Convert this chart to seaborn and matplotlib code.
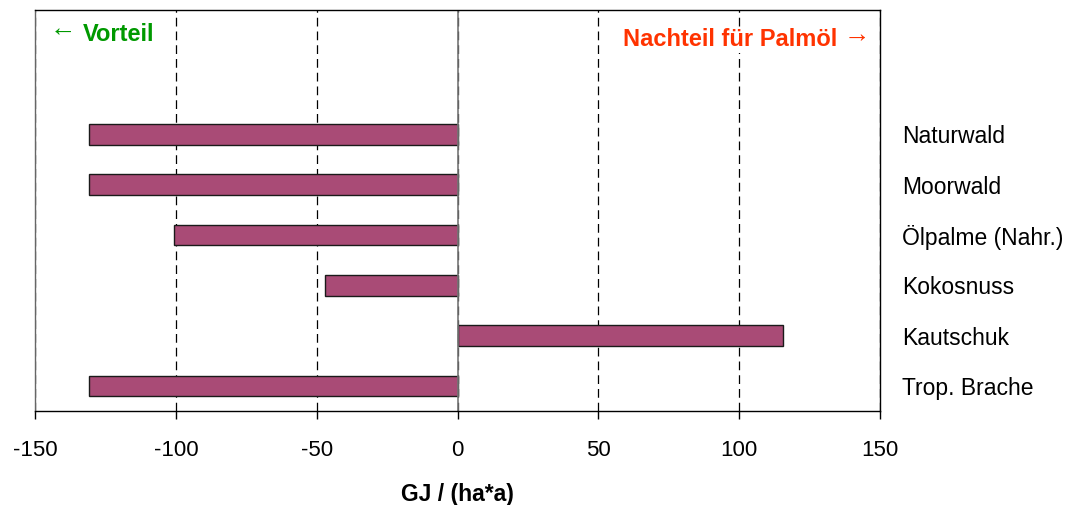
import matplotlib
matplotlib.use("Agg")
import matplotlib.pyplot as plt
import seaborn as sns
import pandas as pd

categories = ["Naturwald", "Moorwald", "Ölpalme (Nahr.)", "Kokosnuss", "Kautschuk", "Trop. Brache"]
values = [-131, -131, -100.5, -47, 115.5, -131]
xticks = [-150, -100, -50, 0, 50, 100, 150]

sns.set_theme(style="white")
plt.rcParams['font.family'] = ['Liberation Sans', 'DejaVu Sans']
plt.rcParams['text.color'] = 'black'
plt.rcParams['xtick.color'] = 'black'
plt.rcParams['ytick.color'] = 'black'
plt.rcParams['axes.labelcolor'] = 'black'

df = pd.DataFrame({"Kategorie": categories, "Wert": values})

fig = plt.figure(figsize=(10.82, 5.05), dpi=100)
ax = fig.add_axes([35/1082, 94/505, 845/1082, 401/505])

ax.set_axisbelow(True)
ax.xaxis.grid(True, linestyle=(0, (7, 4)), color="black", linewidth=0.9)
sns.barplot(data=df, x="Wert", y="Kategorie", orient="h", color="#A94B76",
            saturation=1, width=0.41, edgecolor="#1a1a1a", linewidth=1.0, ax=ax)
ax.axvline(0, color="#777777", linewidth=1.2, zorder=1.5)

ax.set_xlim(-150, 150)
ax.set_ylim(5.5, -2.47)
ax.set_xticks(xticks)
ax.set_xticklabels([str(t) for t in xticks], fontsize=16)

ax.yaxis.tick_right()
ax.tick_params(axis="y", length=0, pad=16, labelsize=16.5)
ax.tick_params(axis="x", direction="out", length=6, width=1, color="black",
               pad=15, bottom=True)
ax.set_ylabel("")
ax.set_xlabel("GJ / (ha*a)", fontsize=16.5, fontweight="bold", labelpad=16)

for s in ax.spines.values():
    s.set_color("black")
    s.set_linewidth(1.0)
ax.spines["left"].set_color("#666666")

# annotations
fig.text(50/1082, 1 - 29/505, "←", color="#009900", fontsize=19,
         ha="left", va="center")
fig.text(83/1082, 1 - 34/505, "Vorteil", color="#009900", fontsize=17, fontweight="bold",
         ha="left", va="center")
fig.text(837/1082, 1 - 40/505, "Nachteil für Palmöl", color="#FF3300", fontsize=17,
         fontweight="bold", ha="right", va="center",
         bbox=dict(facecolor="white", edgecolor="none", pad=1))
fig.text(844/1082, 1 - 35/505, "→", color="#FF3300", fontsize=19,
         ha="left", va="center")

fig.savefig("out.png", dpi=100)
